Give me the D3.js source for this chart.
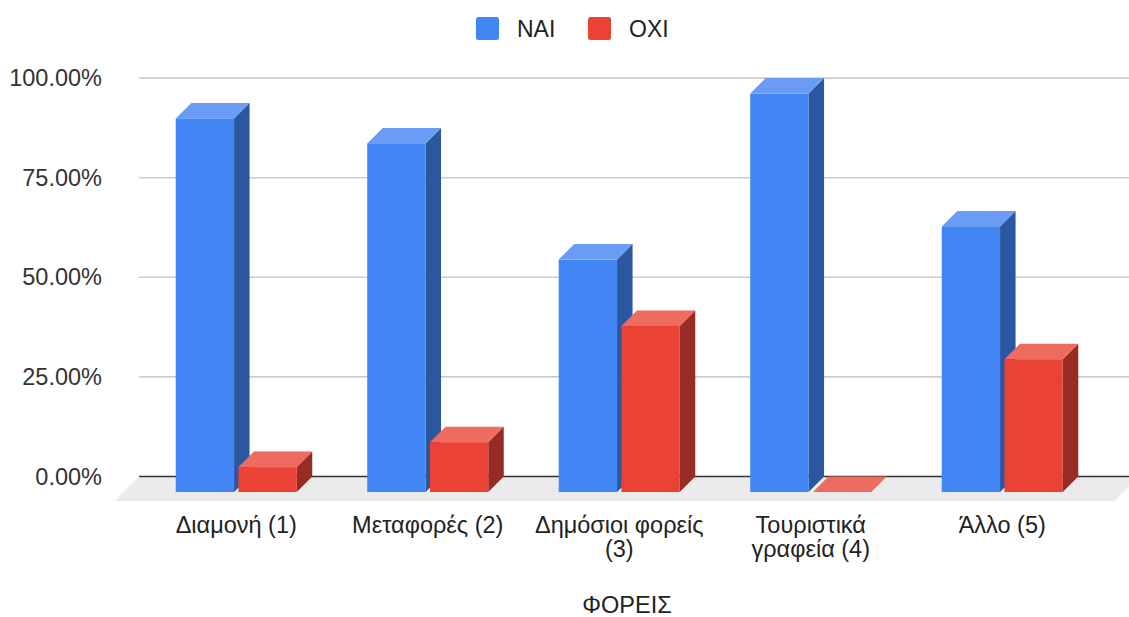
<!DOCTYPE html>
<html>
<head>
<meta charset="utf-8">
<script src="https://cdn.jsdelivr.net/npm/d3@7"></script>
<style>
  html, body { margin: 0; padding: 0; background: #fff; }
  svg { display: block; font-family: Arial, "Liberation Sans", sans-serif; }
</style>
</head>
<body>
<svg id="chart" width="1129" height="617"></svg>
<script>
// Share of answers per agency type
const categories = ["Διαμονή (1)", "Μεταφορές (2)", "Δημόσιοι φορείς (3)", "Τουριστικά γραφεία (4)", "Άλλο (5)"];
const seriesNames = ["ΝΑΙ", "ΟΧΙ"];
const naiValues = [93.75, 87.5, 58.33, 100, 66.67];
const oxiValues = [6.25, 12.5, 41.67, 0, 33.33];
const yTicks = [0, 25, 50, 75, 100];
const axisTitle = "ΦΟΡΕΙΣ";

const seriesValues = [naiValues, oxiValues];
const palette = [
  { front: "#4285f4", top: "#6a9cf5", side: "#2b56a0" },
  { front: "#ea4335", top: "#ee6b5f", side: "#982b23" }
];

const svg = d3.select("#chart");

// oblique depth of each bar and of the floor
const depth = 15.5;
const floorDepth = 24.5;

// value scale on the back plane
const y = d3.scaleLinear().domain([0, 100]).range([476.5, 78.1]);
const yFront = v => y(v) + depth;

// category and series scales on the front plane of the bars
const x = d3.scaleBand().domain(categories).range([140.5, 1098])
  .paddingInner(0.368).paddingOuter(0.184);
const xs = d3.scaleBand().domain(seriesNames).range([0, x.bandwidth()]).paddingInner(0.07);

const gridX0 = 139, gridX1 = 1139;
const textSize = 23.5;

// floor
svg.append("polygon")
  .attr("points", [
    [gridX0, y(0)], [gridX1, y(0)],
    [gridX1 - floorDepth, y(0) + floorDepth], [gridX0 - floorDepth, y(0) + floorDepth]
  ].map(p => p.join(",")).join(" "))
  .attr("fill", "#ebebeb");

// tick labels
const yAxis = d3.axisLeft(y).tickValues(yTicks).tickSize(0).tickPadding(0)
  .tickFormat(d => d3.format(".2f")(d) + "%");
const gAxis = svg.append("g").attr("transform", `translate(102,0)`).call(yAxis);
gAxis.select(".domain").remove();
gAxis.selectAll("text")
  .attr("font-size", textSize)
  .attr("fill", "#333")
  .attr("font-family", "Arial, 'Liberation Sans', sans-serif");

// gridlines on the back wall, baseline darker
svg.append("g").selectAll("line").data(yTicks).join("line")
  .attr("x1", gridX0).attr("x2", gridX1)
  .attr("y1", d => y(d)).attr("y2", d => y(d))
  .attr("stroke", d => d === 0 ? "#333" : "#cccccc")
  .attr("stroke-width", 1.6);

// bars: side, top, then front face
const pts = arr => arr.map(p => p.join(",")).join(" ");
const gBars = svg.append("g");
categories.forEach((cat, i) => {
  seriesNames.forEach((s, j) => {
    const v = seriesValues[j][i];
    const x0 = x(cat) + xs(s), w = xs.bandwidth();
    const yT = yFront(v), yB = yFront(0);
    const c = palette[j];
    const g = gBars.append("g");
    g.append("polygon").attr("fill", c.side)
      .attr("points", pts([[x0 + w, yT], [x0 + w + depth, yT - depth], [x0 + w + depth, yB - depth], [x0 + w, yB]]));
    g.append("polygon").attr("fill", c.top)
      .attr("points", pts([[x0, yT], [x0 + depth, yT - depth], [x0 + w + depth, yT - depth], [x0 + w, yT]]));
    if (yB - yT > 0) {
      g.append("rect").attr("fill", c.front)
        .attr("x", x0).attr("y", yT).attr("width", w).attr("height", yB - yT);
    }
  });
});

// category labels, wrapped to the band step
const gLabels = svg.append("g")
  .attr("font-size", textSize).attr("fill", "#222").attr("text-anchor", "middle");
categories.forEach(cat => {
  const cx = x(cat) + x.bandwidth() / 2;
  const t = gLabels.append("text").attr("x", cx).attr("y", 533);
  const words = cat.split(" ");
  const maxW = x.step() - 8;
  let line = [];
  let tspan = t.append("tspan").attr("x", cx).attr("dy", 0);
  words.forEach(wd => {
    line.push(wd);
    tspan.text(line.join(" "));
    if (tspan.node().getComputedTextLength() > maxW && line.length > 1) {
      line.pop();
      tspan.text(line.join(" "));
      line = [wd];
      tspan = t.append("tspan").attr("x", cx).attr("dy", 24).text(wd);
    }
  });
});

// axis title
svg.append("text").attr("x", 627).attr("y", 613)
  .attr("text-anchor", "middle").attr("font-size", textSize).attr("fill", "#222")
  .text(axisTitle);

// legend
const legend = svg.append("g").attr("transform", "translate(476,17)");
const legendOffsets = [0, 112];
seriesNames.forEach((s, j) => {
  const g = legend.append("g").attr("transform", `translate(${legendOffsets[j]},0)`);
  g.append("rect").attr("width", 23).attr("height", 23).attr("rx", 2.5)
    .attr("fill", palette[j].front);
  g.append("text").attr("x", 41).attr("y", 11.5).attr("dy", "0.35em")
    .attr("font-size", 23).attr("fill", "#222").text(s);
});
</script>
</body>
</html>
